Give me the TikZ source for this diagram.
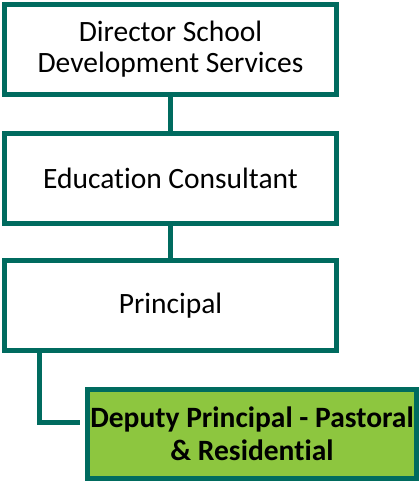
\documentclass[tikz,border=0pt]{standalone}
\usepackage{fontspec}
\setmainfont{Carlito}[Ligatures=NoCommon]
\definecolor{orgline}{RGB}{0,107,95}
\definecolor{orgfill}{RGB}{141,198,63}

\begin{document}
\begin{tikzpicture}[x=1pt,y=-1pt,
	post/.style={draw=orgline, line width=5pt, fill=white, inner sep=0pt,
		minimum width=332pt, minimum height=90pt, align=center,
		font=\fontsize{29.5}{31}\selectfont},
	link/.style={draw=orgline, line width=5pt}]
	\useasboundingbox (0,0) rectangle (419,482);

	\node[post] (dir) at (170.5,49.5) {Director School\\Development Services};
	\node[post] (ec) at (170.5,178) {Education Consultant};
	\node[post] (pr) at (170.5,305.5) {Principal};
	\node[post, fill=orgfill, minimum width=329pt, minimum height=89pt,
		font=\fontsize{29.5}{33}\selectfont\bfseries] (dp) at (252,434)
		{Deputy Principal - Pastoral\\\& Residential};

	\coordinate (bend) at (39.5,422.5);
	\draw[link] (dir) -- (ec);
	\draw[link] (ec) -- (pr);
	\draw[link, shorten >=5pt] (pr.south -| bend) |- (dp.west |- bend);
\end{tikzpicture}
\end{document}
